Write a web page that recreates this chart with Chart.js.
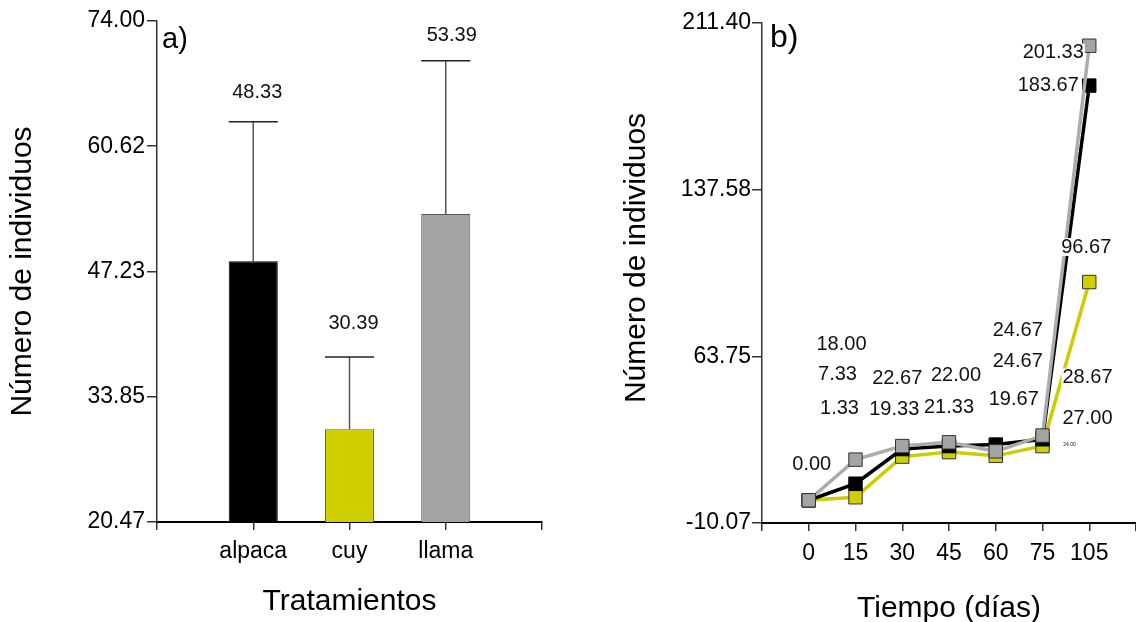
<!DOCTYPE html>
<html>
<head>
<meta charset="utf-8">
<script src="https://cdn.jsdelivr.net/npm/chart.js@4/dist/chart.umd.min.js"></script>
<style>
  html, body { margin: 0; padding: 0; background: #fff; overflow: hidden; }
  #wrapA { position: absolute; left: 0; top: 0; width: 560px; height: 622px; }
  #wrapB { position: absolute; left: 560px; top: 0; width: 585px; height: 622px; }
</style>
</head>
<body>
<div id="wrapA"><canvas id="chartA" width="560" height="622"></canvas></div>
<div id="wrapB"><canvas id="chartB" width="585" height="622"></canvas></div>
<script>
// --- Panel a): mean number of individuals per treatment ---
const treatments  = ['alpaca', 'cuy', 'llama'];
const treatMeans  = [48.33, 30.39, 53.39];
const treatErr    = [14.91, 7.71, 16.37];
const treatLabels = ['48.33', '30.39', '53.39'];
const yTicksA     = [20.47, 33.85, 47.23, 60.62, 74.00];

// --- Panel b): individuals over time ---
const days           = ['0', '15', '30', '45', '60', '75', '105'];
const serieGris      = [0, 18.00, 24.00, 25.67, 21.67, 28.67, 201.33];
const serieNegra     = [0, 7.33, 22.67, 24.00, 24.67, 27.00, 183.67];
const serieAmarilla  = [0, 1.33, 19.33, 21.33, 19.67, 24.00, 96.67];
const labelsGris     = ['0.00', '18.00', '', '', '24.67', '28.67', '201.33'];
const labelsNegra    = ['', '7.33', '22.67', '22.00', '24.67', '27.00', '183.67'];
const labelsAmarilla = ['', '1.33', '19.33', '21.33', '19.67', '24.00', '96.67'];
const yTicksB        = [-10.07, 63.75, 137.58, 211.40];

const FONT  = "'Liberation Sans', Arial, sans-serif";
const INK   = '#000';
const AXIS  = '#333';
const GRAY  = '#a3a3a3';
const YELLOW = '#cfcf00';

// label nudges in px (dx, dy[, size]) from the mark they belong to
const nudgeA = [[4, -29], [4, -34], [6, -25]];
const nudgeB = [
  [[3, -36], [-14, -115], null, null, [22, -121], [45, -58], [-36, 7]],
  [null, [-18, -109], [-5, -71], [7, -71], [22, -83], [45, -21], [-41, 0]],
  [null, [-16, -89], [-8, -47], [0, -45], [18, -56], [27, -1, 5], [-3, -35]],
];

function boxedText(ctx, txt, x, y, size) {
  ctx.font = `${size}px ${FONT}`;
  const w = ctx.measureText(txt).width;
  ctx.fillStyle = '#fff';
  ctx.fillRect(x - w / 2 - 1, y - size * 0.45, w + 2, size * 0.9);
  ctx.fillStyle = '#111';
  ctx.fillText(txt, x, y);
}

// error bars + mean labels for panel a)
const errorPlugin = {
  id: 'errorBars',
  afterDatasetsDraw(chart) {
    const { ctx, scales: { y } } = chart;
    const meta = chart.getDatasetMeta(0);
    ctx.save();
    ctx.textAlign = 'center';
    ctx.textBaseline = 'middle';
    meta.data.forEach((bar, i) => {
      const top = y.getPixelForValue(treatMeans[i] + treatErr[i]);
      ctx.strokeStyle = '#555';
      ctx.lineWidth = 1.5;
      ctx.beginPath();
      ctx.moveTo(bar.x, bar.y);
      ctx.lineTo(bar.x, top);
      ctx.stroke();
      ctx.strokeStyle = '#222';
      ctx.beginPath();
      ctx.moveTo(bar.x - bar.width / 2, top);
      ctx.lineTo(bar.x + bar.width / 2, top);
      ctx.stroke();
      boxedText(ctx, treatLabels[i], bar.x + nudgeA[i][0], top + nudgeA[i][1], 20);
    });
    ctx.font = `29px ${FONT}`;
    ctx.textAlign = 'left';
    ctx.fillStyle = INK;
    ctx.fillText('a)', chart.chartArea.left + 5, 40);
    ctx.restore();
  }
};

// point labels for panel b)
const labelPlugin = {
  id: 'pointLabels',
  afterDatasetsDraw(chart) {
    const ctx = chart.ctx;
    ctx.save();
    ctx.textAlign = 'center';
    ctx.textBaseline = 'middle';
    [labelsGris, labelsNegra, labelsAmarilla].forEach((labels, s) => {
      const meta = chart.getDatasetMeta(s);
      labels.forEach((txt, i) => {
        if (!txt) return;
        const [dx, dy, size] = nudgeB[s][i];
        const pt = meta.data[i];
        boxedText(ctx, txt, pt.x + dx, pt.y + dy, size || 20);
      });
    });
    ctx.font = `32px ${FONT}`;
    ctx.textAlign = 'left';
    ctx.fillStyle = INK;
    ctx.fillText('b)', chart.chartArea.left + 8, 38);
    ctx.restore();
  }
};

const tickFont  = { family: FONT, size: 23 };
const titleFont = { family: FONT, size: 30 };

new Chart(document.getElementById('chartA'), {
  type: 'bar',
  data: {
    datasets: [{
      data: treatMeans.map((v, i) => ({ x: i + 1, y: v })),
      backgroundColor: [INK, YELLOW, GRAY],
      borderColor: [INK, '#555', '#555'],
      borderWidth: 1,
      barPercentage: 0.51,
      categoryPercentage: 1,
    }],
  },
  options: {
    responsive: false, animation: false,
    layout: { autoPadding: false, padding: { top: 21, right: 18, left: 0, bottom: 0 } },
    plugins: { legend: { display: false }, tooltip: { enabled: false } },
    scales: {
      x: {
        type: 'linear', min: 0, max: 4, offset: false,
        afterBuildTicks: s => { s.ticks = [0, 1, 2, 3, 4].map(v => ({ value: v })); },
        afterFit: s => { s.height = 100; },
        ticks: { callback: v => treatments[v - 1] || '', font: tickFont, color: INK, padding: 8, autoSkip: false, maxRotation: 0 },
        grid: { offset: false, drawOnChartArea: false, tickLength: 8, color: AXIS, lineWidth: 1.5 },
        border: { color: INK, width: 2 },
        title: { display: true, text: 'Tratamientos', font: titleFont, color: INK, padding: { top: 0, bottom: 2 } },
      },
      y: {
        min: yTicksA[0], max: yTicksA[yTicksA.length - 1],
        afterBuildTicks: s => { s.ticks = yTicksA.map(v => ({ value: v })); },
        afterFit: s => { s.width = 157; },
        ticks: { callback: v => v.toFixed(2), font: tickFont, color: INK, padding: 2 },
        grid: { drawOnChartArea: false, tickLength: 10, color: AXIS, lineWidth: 1.5 },
        border: { color: AXIS, width: 1.5 },
        title: { display: true, text: 'Número de individuos', font: titleFont, color: INK, padding: { top: 5, bottom: 0 } },
      },
    },
  },
  plugins: [errorPlugin],
});

const lineSet = (label, values, line, fill, edge) => ({
  label,
  data: values.map((v, i) => ({ x: i + 1, y: v })),
  borderColor: line,
  borderWidth: 3.5,
  pointStyle: 'rect',
  pointRadius: 9.5,
  pointBackgroundColor: fill,
  pointBorderColor: edge,
  pointBorderWidth: 1,
  tension: 0,
});

new Chart(document.getElementById('chartB'), {
  type: 'line',
  data: {
    datasets: [
      lineSet('llama', serieGris, '#acacac', GRAY, AXIS),
      lineSet('alpaca', serieNegra, INK, INK, INK),
      lineSet('cuy', serieAmarilla, '#cccc00', YELLOW, AXIS),
    ],
  },
  options: {
    responsive: false, animation: false,
    layout: { autoPadding: false, padding: { top: 23, right: 0, left: 0, bottom: 0 } },
    plugins: { legend: { display: false }, tooltip: { enabled: false } },
    scales: {
      x: {
        type: 'linear', min: 0, max: 8,
        afterBuildTicks: s => { s.ticks = [0, 1, 2, 3, 4, 5, 6, 7, 8].map(v => ({ value: v })); },
        afterFit: s => { s.height = 99; },
        ticks: { callback: v => days[v - 1] || '', font: tickFont, color: INK, padding: 9, autoSkip: false, maxRotation: 0 },
        grid: { drawOnChartArea: false, tickLength: 8, color: AXIS, lineWidth: 1.5 },
        border: { color: INK, width: 2 },
        title: { display: true, text: 'Tiempo (días)', font: titleFont, color: INK, padding: { top: 0, bottom: -5 } },
      },
      y: {
        min: yTicksB[0], max: yTicksB[yTicksB.length - 1],
        afterBuildTicks: s => { s.ticks = yTicksB.map(v => ({ value: v })); },
        afterFit: s => { s.width = 202; },
        ticks: { callback: v => v.toFixed(2), font: tickFont, color: INK, padding: 1 },
        grid: { drawOnChartArea: false, tickLength: 10, color: AXIS, lineWidth: 1.5 },
        border: { color: AXIS, width: 1.5 },
        title: { display: true, text: '\u2002\u2002Número de individuos', font: titleFont, color: INK, padding: { top: 59, bottom: 0 } },
      },
    },
  },
  plugins: [labelPlugin],
});
</script>
</body>
</html>
